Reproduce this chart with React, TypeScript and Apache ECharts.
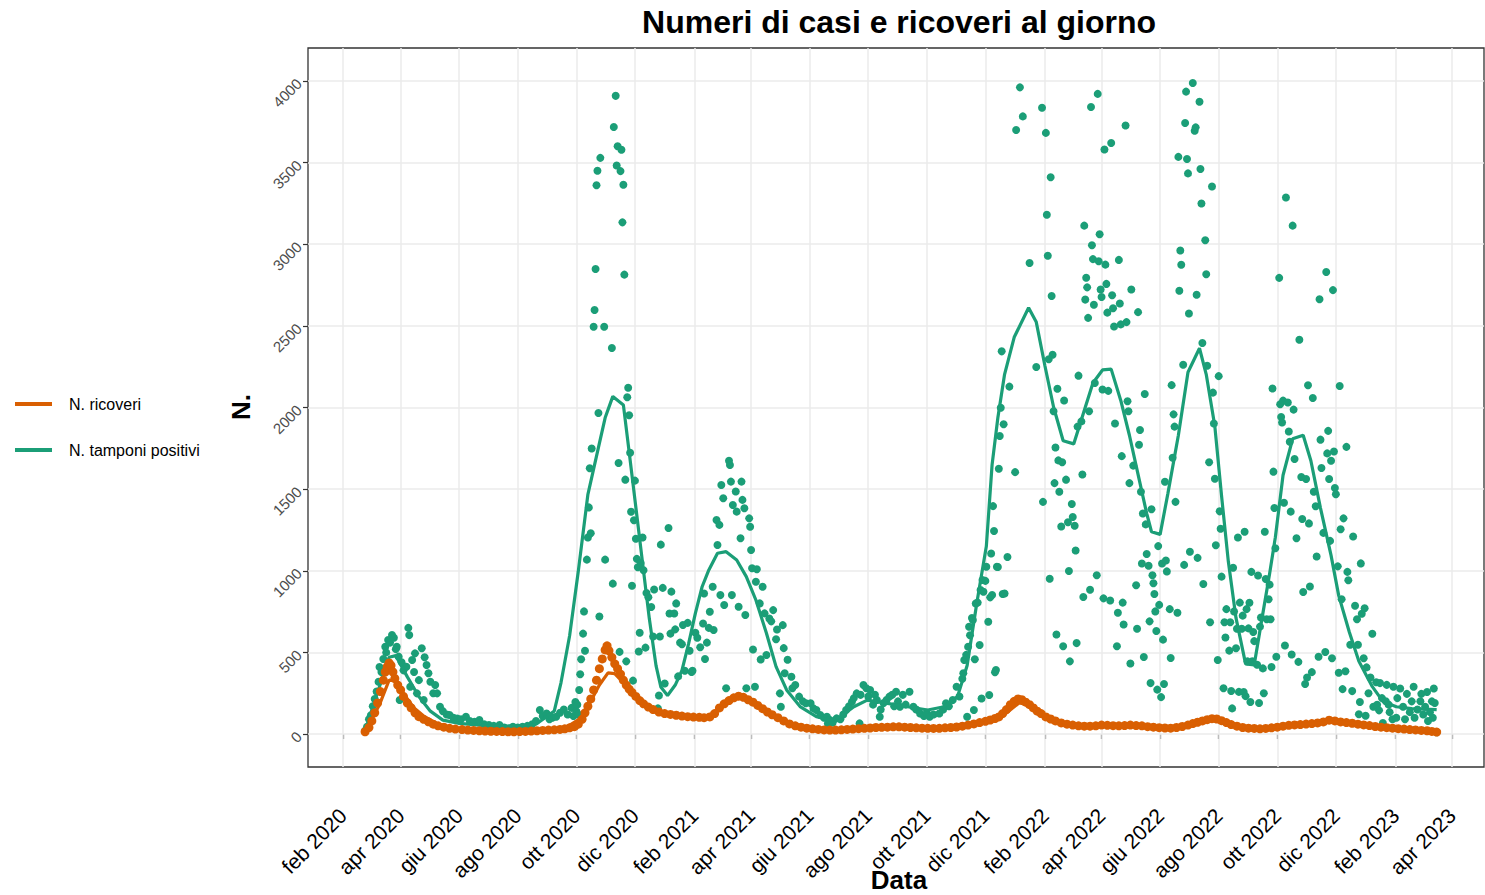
import React, { useEffect, useRef } from "react";
import * as echarts from "echarts";

const TITLE = "Numeri di casi e ricoveri al giorno";
const X_TITLE = "Data";
const Y_TITLE = "N.";
const NAME_RIC = "N. ricoveri";
const NAME_TAMP = "N. tamponi positivi";
const COLOR_RIC = "#D95F02";
const COLOR_TAMP = "#1B9E77";
const FONT = "'Liberation Sans', Arial, Helvetica, sans-serif";

const xTickDates = ["2020-02-01","2020-04-01","2020-06-01","2020-08-01","2020-10-01","2020-12-01","2021-02-01","2021-04-01","2021-06-01","2021-08-01","2021-10-01","2021-12-01","2022-02-01","2022-04-01","2022-06-01","2022-08-01","2022-10-01","2022-12-01","2023-02-01","2023-04-01"];
const xTickLabels = ["feb 2020","apr 2020","giu 2020","ago 2020","ott 2020","dic 2020","feb 2021","apr 2021","giu 2021","ago 2021","ott 2021","dic 2021","feb 2022","apr 2022","giu 2022","ago 2022","ott 2022","dic 2022","feb 2023","apr 2023"];
const yTicks = [0, 500, 1000, 1500, 2000, 2500, 3000, 3500, 4000];
const xLimits = ["2019-12-26T13:00:00Z", "2023-05-04T07:00:00Z"];
const yLimits = [-202, 4202];

type P = [string, number];

const tampDots2020: P[] = [
["2020-02-24",20],["2020-02-26",45],["2020-02-28",90],["2020-03-01",115],["2020-03-03",170],["2020-03-05",215],["2020-03-07",260],["2020-03-09",320],["2020-03-10",410],["2020-03-12",380],["2020-03-14",460],["2020-03-16",535],["2020-03-17",500],["2020-03-19",576],["2020-03-21",560],["2020-03-23",606],["2020-03-25",590],["2020-03-27",520],["2020-03-28",535],["2020-03-30",474],["2020-03-31",208],["2020-04-02",440],["2020-04-04",390],["2020-04-07",412],["2020-04-09",650],["2020-04-10",606],["2020-04-11",290],["2020-04-13",453],["2020-04-15",380],["2020-04-16",494],["2020-04-18",249],["2020-04-20",330],["2020-04-23",525],["2020-04-25",208],["2020-04-26",470],["2020-04-28",423],["2020-04-30",372],["2020-05-02",320],["2020-05-05",250],["2020-05-07",300],["2020-05-09",249],["2020-05-12",167],["2020-05-15",140],["2020-05-19",120],["2020-05-22",116],["2020-05-26",100],["2020-05-30",95],["2020-06-03",90],["2020-06-08",106],["2020-06-12",80],["2020-06-17",75],["2020-06-22",86],["2020-06-27",60],["2020-07-02",55],["2020-07-07",50],["2020-07-13",55],["2020-07-18",40],["2020-07-23",35],["2020-07-27",45],["2020-08-01",40],["2020-08-06",45],["2020-08-11",50],["2020-08-16",60],["2020-08-20",80],["2020-08-24",147],["2020-08-27",110],["2020-08-31",126],["2020-09-03",90],["2020-09-06",100],["2020-09-10",106],["2020-09-14",130],["2020-09-18",150],["2020-09-22",120],["2020-09-26",160],["2020-09-28",110],["2020-09-30",196],
["2020-10-01",140],["2020-10-02",180],["2020-10-03",120],["2020-10-04",270],["2020-10-05",366],["2020-10-06",458],["2020-10-08",615],["2020-10-09",751],["2020-10-10",510],["2020-10-12",1068],["2020-10-13",1204],["2020-10-14",1388],["2020-10-15",1628],["2020-10-16",1230],["2020-10-17",1749],["2020-10-19",2495],["2020-10-20",2597],["2020-10-21",2848],["2020-10-22",3361],["2020-10-23",3450],["2020-10-24",1966],["2020-10-25",720],["2020-10-26",3529],["2020-10-30",2495],["2020-10-31",1068],["2020-11-07",2364],["2020-11-08",921],["2020-11-09",3718],["2020-11-11",3909],["2020-11-12",3482],["2020-11-13",3600],["2020-11-14",1660],["2020-11-15",503],["2020-11-16",3448],["2020-11-17",3579],["2020-11-18",3134],["2020-11-19",3364],["2020-11-20",2814],["2020-11-21",1558],["2020-11-22",445],["2020-11-23",2063],["2020-11-24",2121],["2020-11-25",1953],["2020-11-26",1723],["2020-11-27",1361],["2020-11-28",908],["2020-11-29",327],["2020-11-30",1309],["2020-12-01",1552],["2020-12-02",1196],["2020-12-03",1073],["2020-12-04",1021],["2020-12-05",505],["2020-12-06",620],["2020-12-07",1047],["2020-12-09",1204],["2020-12-10",1003],["2020-12-12",529],["2020-12-13",864],["2020-12-15",838],["2020-12-18",778],["2020-12-20",597],["2020-12-21",885],["2020-12-25",157],["2020-12-26",236],["2020-12-27",597],["2020-12-28",1160],["2020-12-30",895]
];

const tampDots2021: P[] = [
["2021-01-01",309],["2021-01-05",1262],["2021-01-06",738],["2021-01-07",615],["2021-01-08",872],["2021-01-11",738],["2021-01-12",641],["2021-01-13",800],["2021-01-15",353],["2021-01-17",560],["2021-01-19",550],["2021-01-20",668],["2021-01-22",388],["2021-01-25",681],["2021-01-27",510],["2021-01-29",380],["2021-01-30",388],["2021-02-02",620],["2021-02-04",590],["2021-02-07",531],["2021-02-10",677],["2021-02-11",861],["2021-02-12",460],["2021-02-14",560],["2021-02-16",650],["2021-02-17",749],["2021-02-20",902],["2021-02-21",637],["2021-02-24",1311],["2021-02-25",1158],["2021-02-27",1281],["2021-02-28",851],
["2021-03-01",1525],["2021-03-03",1444],["2021-03-04",790],["2021-03-06",280],["2021-03-09",1674],["2021-03-10",1648],["2021-03-11",1546],["2021-03-12",851],["2021-03-13",1403],["2021-03-16",1485],["2021-03-17",1362],["2021-03-19",780],["2021-03-21",1199],["2021-03-22",1546],["2021-03-23",1434],["2021-03-25",1383],["2021-03-26",729],["2021-03-27",280],["2021-03-30",1321],["2021-03-31",1270],
["2021-04-01",1127],["2021-04-02",1015],["2021-04-03",518],["2021-04-05",290],["2021-04-06",933],["2021-04-07",1009],["2021-04-10",800],["2021-04-11",457],["2021-04-13",902],["2021-04-15",739],["2021-04-17",484],["2021-04-20",708],["2021-04-22",690],["2021-04-24",759],["2021-04-27",581],["2021-04-28",640],
["2021-05-01",249],["2021-05-02",167],["2021-05-04",667],["2021-05-05",526],["2021-05-06",372],["2021-05-09",455],["2021-05-13",351],["2021-05-14",280],["2021-05-17",300],["2021-05-21",229],["2021-05-25",200],["2021-05-28",188],
["2021-06-02",188],["2021-06-05",157],["2021-06-08",147],["2021-06-12",116],["2021-06-16",100],["2021-06-19",106],["2021-06-20",65],["2021-06-22",86],["2021-06-25",70],["2021-06-29",96],
["2021-07-03",90],["2021-07-06",120],["2021-07-09",147],["2021-07-12",170],["2021-07-15",198],["2021-07-17",220],["2021-07-20",249],["2021-07-23",65],["2021-07-24",240],["2021-07-27",300],["2021-07-30",280],
["2021-08-01",230],["2021-08-03",270],["2021-08-06",180],["2021-08-08",240],["2021-08-10",208],["2021-08-13",106],["2021-08-14",150],["2021-08-17",190],["2021-08-20",208],["2021-08-23",229],["2021-08-26",240],["2021-08-28",170],["2021-08-30",259],
["2021-09-01",200],["2021-09-03",167],["2021-09-06",240],["2021-09-09",180],["2021-09-13",259],["2021-09-17",167],["2021-09-20",150],["2021-09-24",126],["2021-09-28",110],
["2021-10-01",130],["2021-10-04",106],["2021-10-08",120],["2021-10-14",126],["2021-10-18",150],["2021-10-21",188],["2021-10-24",170],["2021-10-28",208],
["2021-11-01",290],["2021-11-04",230],["2021-11-07",338],["2021-11-08",372],["2021-11-09",453],["2021-11-11",485],["2021-11-12",106],["2021-11-13",535],["2021-11-14",657],["2021-11-15",605],["2021-11-17",711],["2021-11-18",698],["2021-11-19",147],["2021-11-20",458],["2021-11-21",800],["2021-11-23",805],["2021-11-25",545],["2021-11-26",882],["2021-11-27",218],["2021-11-28",943],["2021-11-29",871],
["2021-12-01",938],["2021-12-02",1025],["2021-12-04",688],["2021-12-05",239],["2021-12-06",837],["2021-12-07",1106],["2021-12-08",851],["2021-12-09",1396],["2021-12-10",1244],["2021-12-11",378],["2021-12-12",392],["2021-12-13",1025],["2021-12-14",1023],["2021-12-15",1625],["2021-12-16",1825],["2021-12-17",1998],["2021-12-18",2344],["2021-12-19",858],["2021-12-20",1897],["2021-12-21",861],["2021-12-24",1084],["2021-12-26",2128]
];

const tampDots2022: P[] = [
["2022-01-01",1604],["2022-01-02",3700],["2022-01-06",3961],["2022-01-09",3783],["2022-01-16",2885],["2022-01-23",2248],["2022-01-29",3836],["2022-01-30",1422],
["2022-02-02",3682],["2022-02-03",3181],["2022-02-04",2930],["2022-02-05",2296],["2022-02-06",951],["2022-02-07",3410],["2022-02-08",2683],["2022-02-09",2323],["2022-02-10",1977],["2022-02-11",1537],["2022-02-12",1755],["2022-02-13",610],["2022-02-14",2115],["2022-02-15",1676],["2022-02-16",1484],["2022-02-18",1271],["2022-02-19",1665],["2022-02-20",538],["2022-02-21",2043],["2022-02-23",1558],["2022-02-25",1297],["2022-02-26",999],["2022-02-27",445],
["2022-03-01",1409],["2022-03-02",1329],["2022-03-04",1276],["2022-03-05",1124],["2022-03-06",557],["2022-03-07",1883],["2022-03-08",2195],["2022-03-11",1915],["2022-03-12",1590],["2022-03-13",839],["2022-03-14",3114],["2022-03-15",2661],["2022-03-16",2795],["2022-03-17",2736],["2022-03-18",2549],["2022-03-19",1977],["2022-03-20",884],["2022-03-21",3841],["2022-03-22",2994],["2022-03-23",2909],["2022-03-24",2629],["2022-03-25",2150],["2022-03-27",972],["2022-03-28",3921],["2022-03-29",2896],["2022-03-30",3061],["2022-03-31",2723],
["2022-04-01",2677],["2022-04-02",2110],["2022-04-03",831],["2022-04-04",3580],["2022-04-05",2875],["2022-04-06",2757],["2022-04-07",2581],["2022-04-08",2102],["2022-04-10",818],["2022-04-11",3620],["2022-04-12",2688],["2022-04-13",2608],["2022-04-14",2496],["2022-04-15",1902],["2022-04-17",538],["2022-04-18",743],["2022-04-19",2904],["2022-04-20",2637],["2022-04-21",2509],["2022-04-22",1702],["2022-04-23",805],["2022-04-24",671],["2022-04-26",3727],["2022-04-27",2523],["2022-04-28",2038],["2022-04-29",1977],["2022-04-30",1537],
["2022-05-01",432],["2022-05-02",2723],["2022-05-04",1644],["2022-05-07",911],["2022-05-08",645],["2022-05-09",2584],["2022-05-10",1772],["2022-05-11",1862],["2022-05-12",1484],["2022-05-13",1044],["2022-05-14",1351],["2022-05-15",472],["2022-05-16",2083],["2022-05-17",1284],["2022-05-18",1103],["2022-05-20",1031],["2022-05-21",690],["2022-05-22",312],["2022-05-23",1377],["2022-05-24",972],["2022-05-25",924],["2022-05-26",858],["2022-05-27",751],["2022-05-28",631],["2022-05-29",272],["2022-05-30",1151],["2022-05-31",791],
["2022-06-02",226],["2022-06-03",1044],["2022-06-04",578],["2022-06-05",306],["2022-06-06",1545],["2022-06-07",1063],["2022-06-08",996],["2022-06-11",765],["2022-06-12",466],["2022-06-13",2137],["2022-06-14",1692],["2022-06-15",1958],["2022-06-16",1883],["2022-06-17",1422],["2022-06-19",743],["2022-06-20",3535],["2022-06-21",2715],["2022-06-22",2962],["2022-06-23",2874],["2022-06-25",2262],["2022-06-26",1036],["2022-06-27",3743],["2022-06-28",3935],["2022-06-29",3522],["2022-06-30",3434],
["2022-07-01",2576],["2022-07-02",1116],["2022-07-05",3988],["2022-07-07",3695],["2022-07-08",3716],["2022-07-09",2691],["2022-07-10",1079],["2022-07-12",3873],["2022-07-13",3461],["2022-07-14",3250],["2022-07-15",2395],["2022-07-16",919],["2022-07-18",3024],["2022-07-19",2816],["2022-07-20",2256],["2022-07-22",1665],["2022-07-23",685],["2022-07-25",3354],["2022-07-26",2091],["2022-07-27",1902],["2022-07-28",1564],["2022-07-29",1156],["2022-07-31",453],
["2022-08-01",2192],["2022-08-02",1364],["2022-08-03",1257],["2022-08-04",964],["2022-08-06",280],["2022-08-07",685],["2022-08-08",591],["2022-08-09",765],["2022-08-12",511],["2022-08-13",685],["2022-08-14",264],["2022-08-15",157],["2022-08-16",1018],["2022-08-17",751],["2022-08-19",525],["2022-08-20",645],["2022-08-21",1204],["2022-08-22",258],["2022-08-23",805],["2022-08-25",645],["2022-08-26",725],["2022-08-27",257],["2022-08-28",1239],["2022-08-29",232],["2022-08-30",765],["2022-08-31",445],
["2022-09-01",647],["2022-09-02",804],["2022-09-03",196],["2022-09-04",993],["2022-09-05",446],["2022-09-06",625],["2022-09-07",569],["2022-09-10",424],["2022-09-11",971],["2022-09-12",190],["2022-09-13",658],["2022-09-14",714],["2022-09-16",402],["2022-09-17",250],["2022-09-18",1239],["2022-09-19",949],["2022-09-20",703],["2022-09-22",826],["2022-09-23",915],["2022-09-24",703],["2022-09-25",411],["2022-09-26",2116],["2022-09-27",1607],["2022-09-28",1384],["2022-09-29",1138],["2022-09-30",473],
["2022-10-03",2794],["2022-10-04",2020],["2022-10-05",1942],["2022-10-06",1908],["2022-10-07",2042],["2022-10-08",1417],["2022-10-09",542],["2022-10-10",3286],["2022-10-12",2031],["2022-10-13",1853],["2022-10-14",1790],["2022-10-15",1362],["2022-10-16",487],["2022-10-17",3114],["2022-10-18",1987],["2022-10-19",1685],["2022-10-21",1199],["2022-10-23",442],["2022-10-24",2415],["2022-10-26",1574],["2022-10-27",1317],["2022-10-28",870],["2022-10-30",306],["2022-10-31",1562],
["2022-11-01",346],["2022-11-02",2136],["2022-11-03",1290],["2022-11-04",904],["2022-11-06",379],["2022-11-07",2058],["2022-11-08",1484],["2022-11-10",1395],["2022-11-11",1087],["2022-11-13",473],["2022-11-14",2663],["2022-11-15",1803],["2022-11-16",1629],["2022-11-18",1232],["2022-11-20",502],["2022-11-21",2830],["2022-11-22",1719],["2022-11-23",1857],["2022-11-24",1562],["2022-11-25",1183],["2022-11-26",1674],["2022-11-27",464],["2022-11-28",2719],["2022-11-29",1730],["2022-11-30",1507],
["2022-12-01",1469],["2022-12-03",1027],["2022-12-04",375],["2022-12-05",2132],["2022-12-06",1254],["2022-12-07",826],["2022-12-08",275],["2022-12-09",1321],["2022-12-11",384],["2022-12-12",1759],["2022-12-13",993],["2022-12-14",942],["2022-12-16",547],["2022-12-18",263],["2022-12-19",1210],["2022-12-21",786],["2022-12-23",703],["2022-12-24",547],["2022-12-25",121],["2022-12-26",196],["2022-12-27",1045],["2022-12-28",737],["2022-12-30",464],["2022-12-31",770]
];

const tampDots2023: P[] = [
["2023-01-01",112],["2023-01-02",408],["2023-01-04",250],["2023-01-06",346],["2023-01-08",614],["2023-01-09",167],["2023-01-12",317],["2023-01-13",179],["2023-01-15",145],["2023-01-16",312],["2023-01-18",220],["2023-01-19",67],["2023-01-22",201],["2023-01-23",301],["2023-01-25",180],["2023-01-26",134],["2023-01-29",90],["2023-01-30",290],["2023-02-02",100],["2023-02-03",220],["2023-02-06",279],["2023-02-09",167],["2023-02-11",90],["2023-02-13",246],["2023-02-16",134],["2023-02-18",200],["2023-02-20",290],["2023-02-21",100],["2023-02-24",150],["2023-02-27",201],["2023-02-28",246],["2023-03-02",120],["2023-03-04",167],["2023-03-06",257],["2023-03-07",80],["2023-03-09",134],["2023-03-11",200],["2023-03-12",100],["2023-03-13",279],["2023-03-14",190],["2023-03-16",11]
];

const tampTrend: P[] = [
["2020-02-24",20],["2020-03-05",200],["2020-03-20",470],["2020-03-27",480],["2020-04-08",350],["2020-04-20",230],["2020-05-02",140],["2020-05-15",85],["2020-06-01",65],["2020-07-01",50],["2020-08-01",45],["2020-08-20",60],["2020-09-01",110],["2020-09-08",140],["2020-09-15",314],["2020-09-24",602],["2020-10-03",995],["2020-10-13",1466],["2020-10-24",1754],["2020-10-31",1937],["2020-11-08",2068],["2020-11-19",2016],["2020-11-25",1728],["2020-12-02",1388],["2020-12-09",1047],["2020-12-16",707],["2020-12-23",419],["2020-12-28",288],["2021-01-04",236],["2021-01-12",300],["2021-01-19",390],["2021-01-26",555],["2021-02-02",740],["2021-02-09",902],["2021-02-16",1005],["2021-02-25",1107],["2021-03-06",1117],["2021-03-17",1066],["2021-03-27",964],["2021-04-06",821],["2021-04-17",617],["2021-04-27",413],["2021-05-08",270],["2021-05-22",168],["2021-06-08",106],["2021-06-22",86],["2021-07-03",106],["2021-07-17",167],["2021-07-31",208],["2021-08-21",188],["2021-09-11",167],["2021-10-02",147],["2021-10-19",167],["2021-11-02",229],["2021-11-12",420],["2021-11-22",800],["2021-12-02",1150],["2021-12-08",1650],["2021-12-14",1937],["2021-12-21",2203],["2021-12-31",2430],["2022-01-15",2611],["2022-01-23",2523],["2022-02-01",2256],["2022-02-10",2003],["2022-02-20",1796],["2022-03-03",1777],["2022-03-13",1963],["2022-03-23",2150],["2022-04-02",2230],["2022-04-11",2235],["2022-04-21",2043],["2022-04-30",1830],["2022-05-09",1590],["2022-05-18",1351],["2022-05-23",1239],["2022-06-01",1223],["2022-06-09",1471],["2022-06-20",1830],["2022-06-30",2216],["2022-07-12",2363],["2022-07-19",2203],["2022-07-28",1883],["2022-08-04",1457],["2022-08-11",1058],["2022-08-19",711],["2022-08-29",430],["2022-09-07",424],["2022-09-14",670],["2022-09-23",982],["2022-09-29",1205],["2022-10-07",1585],["2022-10-17",1808],["2022-10-28",1830],["2022-11-05",1674],["2022-11-15",1384],["2022-11-26",1094],["2022-12-04",848],["2022-12-15",625],["2022-12-25",446],["2023-01-08",290],["2023-01-19",200],["2023-02-02",167],["2023-02-18",156],["2023-03-16",150]
];

const ricDots: P[] = [
["2020-02-24",14],["2020-02-28",40],["2020-03-02",80],["2020-03-05",130],["2020-03-08",190],["2020-03-11",260],["2020-03-14",330],["2020-03-16",380],["2020-03-18",412],["2020-03-20",435],["2020-03-22",420],["2020-03-24",380],["2020-03-26",340],["2020-03-29",300],["2020-04-01",270],["2020-04-04",230],["2020-04-08",190],["2020-04-12",160],["2020-04-16",130],["2020-04-20",106],["2020-04-25",90],["2020-04-30",75],["2020-05-05",60],["2020-05-10",50],["2020-05-16",42],["2020-05-22",35],["2020-05-28",30],["2020-06-04",27],["2020-06-10",24],["2020-06-16",22],["2020-06-22",20],["2020-06-28",18],["2020-07-04",17],["2020-07-10",16],["2020-07-16",15],["2020-07-22",14],["2020-07-28",14],["2020-08-03",15],["2020-08-09",16],["2020-08-15",18],["2020-08-21",20],["2020-08-27",22],["2020-09-02",24],["2020-09-08",26],["2020-09-14",28],["2020-09-19",32],["2020-09-24",38],["2020-09-29",45],
["2020-10-03",60],["2020-10-07",90],["2020-10-10",130],["2020-10-13",170],["2020-10-16",215],["2020-10-19",270],["2020-10-22",330],["2020-10-25",400],["2020-10-28",460],["2020-10-31",515],["2020-11-02",540],["2020-11-04",510],["2020-11-07",470],["2020-11-10",430],["2020-11-13",400],["2020-11-16",367],["2020-11-19",330],["2020-11-22",300],["2020-11-25",275],["2020-11-28",255],["2020-12-02",230],["2020-12-06",205],["2020-12-10",185],["2020-12-15",165],["2020-12-20",150],["2020-12-26",135],
["2021-01-01",125],["2021-01-07",120],["2021-01-13",115],["2021-01-19",110],["2021-01-25",106],["2021-01-31",104],["2021-02-06",102],["2021-02-11",100],["2021-02-17",105],["2021-02-22",125],["2021-02-27",160],["2021-03-04",185],["2021-03-09",205],["2021-03-14",222],["2021-03-19",232],["2021-03-24",225],["2021-03-29",210],["2021-04-03",195],["2021-04-08",175],["2021-04-13",155],["2021-04-18",135],["2021-04-23",118],["2021-04-29",100],["2021-05-05",80],["2021-05-11",62],["2021-05-17",50],["2021-05-23",42],["2021-05-29",36],["2021-06-04",32],["2021-06-10",28],["2021-06-16",25],["2021-06-22",24],["2021-06-28",24],["2021-07-04",26],["2021-07-10",28],["2021-07-16",30],["2021-07-22",33],["2021-07-28",35],["2021-08-03",37],["2021-08-09",40],["2021-08-15",41],["2021-08-21",42],["2021-08-27",44],["2021-09-02",44],["2021-09-08",42],["2021-09-14",40],["2021-09-20",38],["2021-09-26",36],["2021-10-02",35],["2021-10-08",34],["2021-10-14",35],["2021-10-20",38],["2021-10-26",40],["2021-11-01",43],["2021-11-07",48],["2021-11-13",55],["2021-11-19",62],["2021-11-25",70],["2021-12-01",78],["2021-12-06",86],["2021-12-11",95],["2021-12-15",105],["2021-12-19",125],["2021-12-23",150],["2021-12-27",180],["2021-12-31",200],
["2022-01-04",215],["2022-01-08",210],["2022-01-12",195],["2022-01-16",180],["2022-01-20",160],["2022-01-24",140],["2022-01-28",125],["2022-02-02",105],["2022-02-07",92],["2022-02-12",80],["2022-02-18",68],["2022-02-24",60],["2022-03-02",55],["2022-03-08",50],["2022-03-14",48],["2022-03-20",48],["2022-03-26",50],["2022-04-01",55],["2022-04-07",53],["2022-04-13",51],["2022-04-19",50],["2022-04-25",52],["2022-05-01",55],["2022-05-07",52],["2022-05-13",50],["2022-05-19",45],["2022-05-25",42],["2022-05-31",39],["2022-06-06",37],["2022-06-12",36],["2022-06-18",40],["2022-06-24",46],["2022-06-30",55],["2022-07-05",64],["2022-07-10",72],["2022-07-15",80],["2022-07-20",88],["2022-07-25",94],["2022-07-30",92],["2022-08-04",82],["2022-08-09",70],["2022-08-14",58],["2022-08-20",48],["2022-08-26",40],["2022-09-01",36],["2022-09-07",34],["2022-09-13",32],["2022-09-19",34],["2022-09-25",38],["2022-10-01",42],["2022-10-07",48],["2022-10-13",53],["2022-10-19",56],["2022-10-25",58],["2022-10-31",61],["2022-11-06",64],["2022-11-12",68],["2022-11-18",74],["2022-11-24",85],["2022-11-30",80],["2022-12-06",74],["2022-12-12",70],["2022-12-18",66],["2022-12-24",60],["2022-12-30",56],
["2023-01-05",52],["2023-01-11",46],["2023-01-17",42],["2023-01-23",39],["2023-01-29",36],["2023-02-04",33],["2023-02-10",30],["2023-02-16",27],["2023-02-22",25],["2023-02-28",22],["2023-03-06",20],["2023-03-11",16],["2023-03-16",12]
];

const ricTrend: P[] = [
["2020-02-24",10],["2020-03-10",180],["2020-03-20",330],["2020-03-27",325],["2020-04-05",240],["2020-04-15",160],["2020-04-25",110],["2020-05-10",60],["2020-06-01",32],["2020-07-01",20],["2020-08-01",15],["2020-09-01",20],["2020-09-20",40],["2020-10-05",95],["2020-10-15",190],["2020-10-25",300],["2020-11-03",375],["2020-11-10",370],["2020-11-18",320],["2020-11-28",250],["2020-12-08",190],["2020-12-20",150],["2021-01-05",125],["2021-02-01",105],["2021-02-15",108],["2021-03-01",160],["2021-03-15",215],["2021-03-25",220],["2021-04-05",185],["2021-04-20",125],["2021-05-05",80],["2021-05-20",50],["2021-06-10",30],["2021-07-01",25],["2021-08-01",36],["2021-09-01",42],["2021-10-01",36],["2021-11-01",45],["2021-12-01",70],["2021-12-20",115],["2022-01-05",190],["2022-01-15",180],["2022-02-01",115],["2022-02-15",78],["2022-03-01",57],["2022-04-01",53],["2022-05-01",52],["2022-06-01",40],["2022-07-01",55],["2022-07-20",85],["2022-08-05",75],["2022-08-25",45],["2022-09-15",35],["2022-10-15",52],["2022-11-15",68],["2022-12-01",76],["2022-12-20",64],["2023-01-15",46],["2023-02-15",30],["2023-03-16",14]
];

const ts = (d: string) => (d.length > 10 ? Date.parse(d) : Date.parse(d + "T00:00:00Z"));
const toPts = (arr: P[]) => arr.map(([d, v]) => [ts(d), v]);

export default function App() {
  const ref = useRef<HTMLDivElement>(null);
  useEffect(() => {
    if (!ref.current) return;
    const chart = echarts.init(ref.current, undefined, { renderer: "svg" });
    const xTickTs = xTickDates.map(ts);
    const labelMap: Record<number, string> = {};
    xTickTs.forEach((t, i) => (labelMap[t] = xTickLabels[i]));
    const tampDots = [...tampDots2020, ...tampDots2021, ...tampDots2022, ...tampDots2023];

    const option: any = {
      animation: false,
      backgroundColor: "#ffffff",
      grid: {
        left: 308, top: 48, width: 1176, height: 719,
        show: true, borderColor: "#333333", borderWidth: 1.3, backgroundColor: "transparent",
      },
      xAxis: {
        type: "value",
        min: ts(xLimits[0]), max: ts(xLimits[1]),
        axisLine: { show: false },
        splitLine: { show: false },
        axisTick: { show: true, customValues: xTickTs, length: 5, lineStyle: { color: "#333333", width: 1.2 } },
        axisLabel: {
          customValues: xTickTs,
          formatter: (v: number) => labelMap[v] ?? "",
          rotate: 45, margin: 45, fontSize: 21, color: "#000000", fontFamily: FONT,
        },
      },
      yAxis: {
        type: "value",
        min: yLimits[0], max: yLimits[1],
        axisLine: { show: false },
        splitLine: { show: false },
        axisTick: { show: true, customValues: yTicks, length: 5, lineStyle: { color: "#333333", width: 1.2 } },
        axisLabel: {
          customValues: yTicks, rotate: 45, margin: 9, fontSize: 15, color: "#4D4D4D", fontFamily: FONT,
          formatter: (v: number) => String(v),
        },
      },
      legend: {
        orient: "vertical", left: 10, top: 391, itemWidth: 37, itemHeight: 4, itemGap: 30,
        selectedMode: false,
        data: [{ name: NAME_RIC, icon: "rect" }, { name: NAME_TAMP, icon: "rect" }],
        textStyle: { fontSize: 16, color: "#000000", fontFamily: FONT, padding: [0, 0, 0, 12] },
      },
      graphic: [
        { type: "text", x: 899, y: 22, style: { text: TITLE, font: `bold 32px ${FONT}`, fill: "#000", textAlign: "center", textVerticalAlign: "middle" } },
        { type: "text", x: 899, y: 880, style: { text: X_TITLE, font: `bold 26px ${FONT}`, fill: "#000", textAlign: "center", textVerticalAlign: "middle" } },
        { type: "text", x: 241, y: 407, rotation: Math.PI / 2, style: { text: Y_TITLE, font: `bold 26px ${FONT}`, fill: "#000", textAlign: "center", textVerticalAlign: "middle" } },
      ],
      series: [
        {
          name: "griglia", type: "line", data: [], silent: true, z: 1,
          markLine: {
            z: 1, silent: true, symbol: ["none", "none"], label: { show: false },
            lineStyle: { color: "#EBEBEB", width: 1.5, type: "solid" },
            emphasis: { disabled: true },
            data: [...xTickTs.map((t) => ({ xAxis: t })), ...yTicks.map((v) => ({ yAxis: v }))],
          },
        },
        {
          name: NAME_TAMP, type: "scatter", data: toPts(tampDots), symbolSize: 8, z: 2,
          itemStyle: { color: COLOR_TAMP, opacity: 1 },
        },
        {
          name: NAME_TAMP, type: "line", data: toPts(tampTrend), showSymbol: false, z: 3,
          lineStyle: { color: COLOR_TAMP, width: 3.2 }, itemStyle: { color: COLOR_TAMP },
        },
        {
          name: NAME_RIC, type: "scatter", data: toPts(ricDots), symbolSize: 9, z: 4,
          itemStyle: { color: COLOR_RIC, opacity: 1 },
        },
        {
          name: NAME_RIC, type: "line", data: toPts(ricTrend), showSymbol: false, z: 5,
          lineStyle: { color: COLOR_RIC, width: 3.2 }, itemStyle: { color: COLOR_RIC },
        },
      ],
    };
    chart.setOption(option);
    return () => chart.dispose();
  }, []);
  return (
    <div
      ref={ref}
      style={{ position: "fixed", left: 0, top: 0, width: 1485, height: 895, background: "#fff" }}
    />
  );
}
